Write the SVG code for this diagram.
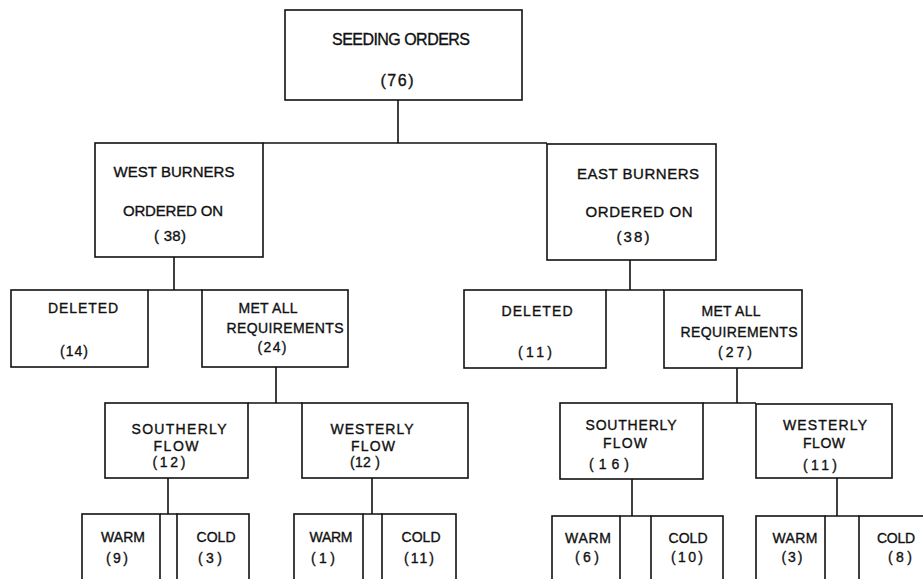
<svg xmlns="http://www.w3.org/2000/svg" width="923" height="579" viewBox="0 0 923 579">
<style>
.box{fill:#fff;stroke:#111;stroke-width:1.6}
.ln{fill:none;stroke:#111;stroke-width:1.6}
text{font-family:"Liberation Sans",Arial,sans-serif;fill:#111;stroke:#111;stroke-width:0.35;text-anchor:middle}
.t1{font-size:16px}
.t2{font-size:15px}
.t3{font-size:14px}
.t4{font-size:14px}
</style>
<rect width="923" height="579" fill="#fff"/>
<g id="connectors">
<path class="ln" d="M398 100V143M263 143H547"/>
<path class="ln" d="M174 257V290M148 290H202"/>
<path class="ln" d="M630 260V290M606 290H664"/>
<path class="ln" d="M276 367V403M248 403H302"/>
<path class="ln" d="M737 368V403M703 403H756"/>
<path class="ln" d="M168 478V514M160 514H177"/>
<path class="ln" d="M372 478V514M363 514H382"/>
<path class="ln" d="M632 479V516M620 516H651"/>
<path class="ln" d="M837 478V516M825 516H859"/>
</g>
<g id="seeding-orders">
<rect class="box" x="285" y="10" width="237" height="90"/>
<text class="t1" x="401" y="45" textLength="138">SEEDING ORDERS</text>
<text class="t1" x="397" y="86" textLength="33">(76)</text>
</g>
<g id="west-burners">
<rect class="box" x="95" y="143" width="168" height="114"/>
<text class="t2" x="174" y="177" textLength="121">WEST BURNERS</text>
<text class="t2" x="173" y="216" textLength="100">ORDERED ON</text>
<text class="t2" x="170" y="241" textLength="32">( 38)</text>
</g>
<g id="east-burners">
<rect class="box" x="547" y="144" width="169" height="116"/>
<text class="t2" x="638" y="179" textLength="122">EAST BURNERS</text>
<text class="t2" x="639" y="217" textLength="107">ORDERED ON</text>
<text class="t2" x="633" y="242" textLength="33">(38)</text>
</g>
<g id="west-deleted">
<rect class="box" x="11" y="290" width="137" height="77"/>
<text class="t3" x="83" y="313" textLength="70">DELETED</text>
<text class="t3" x="74" y="356" textLength="28">(14)</text>
</g>
<g id="west-met">
<rect class="box" x="202" y="290" width="146" height="77"/>
<text class="t3" x="268" y="313" textLength="59">MET ALL</text>
<text class="t3" x="285" y="333" textLength="117">REQUIREMENTS</text>
<text class="t3" x="272" y="352" textLength="29">(24)</text>
</g>
<g id="east-deleted">
<rect class="box" x="464" y="290" width="142" height="78"/>
<text class="t3" x="537" y="316" textLength="71">DELETED</text>
<text class="t3" x="535" y="357" textLength="34">(11)</text>
</g>
<g id="east-met">
<rect class="box" x="664" y="290" width="138" height="78"/>
<text class="t3" x="731" y="316" textLength="59">MET ALL</text>
<text class="t3" x="739" y="337" textLength="117">REQUIREMENTS</text>
<text class="t3" x="735" y="357" textLength="34">(27)</text>
</g>
<g id="west-southerly">
<rect class="box" x="105" y="403" width="143" height="75"/>
<text class="t3" x="179" y="434" textLength="95">SOUTHERLY</text>
<text class="t3" x="176" y="451" textLength="45">FLOW</text>
<text class="t3" x="169" y="467" textLength="33">(12)</text>
</g>
<g id="west-westerly">
<rect class="box" x="302" y="403" width="166" height="75"/>
<text class="t3" x="372" y="434" textLength="83">WESTERLY</text>
<text class="t3" x="373" y="451" textLength="44">FLOW</text>
<text class="t3" x="365" y="467" textLength="30">(12 )</text>
</g>
<g id="east-southerly">
<rect class="box" x="560" y="403" width="143" height="76"/>
<text class="t3" x="631" y="430" textLength="91">SOUTHERLY</text>
<text class="t3" x="625" y="448" textLength="44">FLOW</text>
<text class="t3" x="609" y="469" textLength="40">(16)</text>
</g>
<g id="east-westerly">
<rect class="box" x="756" y="404" width="136" height="74"/>
<text class="t3" x="825" y="430" textLength="84">WESTERLY</text>
<text class="t3" x="824" y="448" textLength="42">FLOW</text>
<text class="t3" x="820" y="470" textLength="34">(11)</text>
</g>
<g id="ws-warm">
<rect class="box" x="82" y="514" width="78" height="80"/>
<text class="t4" x="123" y="542" textLength="44">WARM</text>
<text class="t4" x="117" y="563" textLength="22">(9)</text>
</g>
<g id="ws-cold">
<rect class="box" x="177" y="514" width="72" height="80"/>
<text class="t4" x="216" y="542" textLength="39">COLD</text>
<text class="t4" x="210" y="563" textLength="24">(3)</text>
</g>
<g id="ww-warm">
<rect class="box" x="294" y="514" width="69" height="80"/>
<text class="t4" x="331" y="542" textLength="43">WARM</text>
<text class="t4" x="323" y="563" textLength="24">(1)</text>
</g>
<g id="ww-cold">
<rect class="box" x="382" y="514" width="74" height="80"/>
<text class="t4" x="421" y="542" textLength="39">COLD</text>
<text class="t4" x="419" y="563" textLength="30">(11)</text>
</g>
<g id="es-warm">
<rect class="box" x="552" y="516" width="68" height="80"/>
<text class="t4" x="588" y="543" textLength="46">WARM</text>
<text class="t4" x="587" y="562" textLength="24">(6)</text>
</g>
<g id="es-cold">
<rect class="box" x="651" y="516" width="72" height="80"/>
<text class="t4" x="688" y="543" textLength="39">COLD</text>
<text class="t4" x="687" y="562" textLength="32">(10)</text>
</g>
<g id="ew-warm">
<rect class="box" x="756" y="516" width="69" height="80"/>
<text class="t4" x="795" y="543" textLength="45">WARM</text>
<text class="t4" x="792" y="562" textLength="21">(3)</text>
</g>
<g id="ew-cold">
<rect class="box" x="859" y="516" width="80" height="80"/>
<text class="t4" x="896" y="543" textLength="38">COLD</text>
<text class="t4" x="900" y="562" textLength="24">(8)</text>
</g>
</svg>
